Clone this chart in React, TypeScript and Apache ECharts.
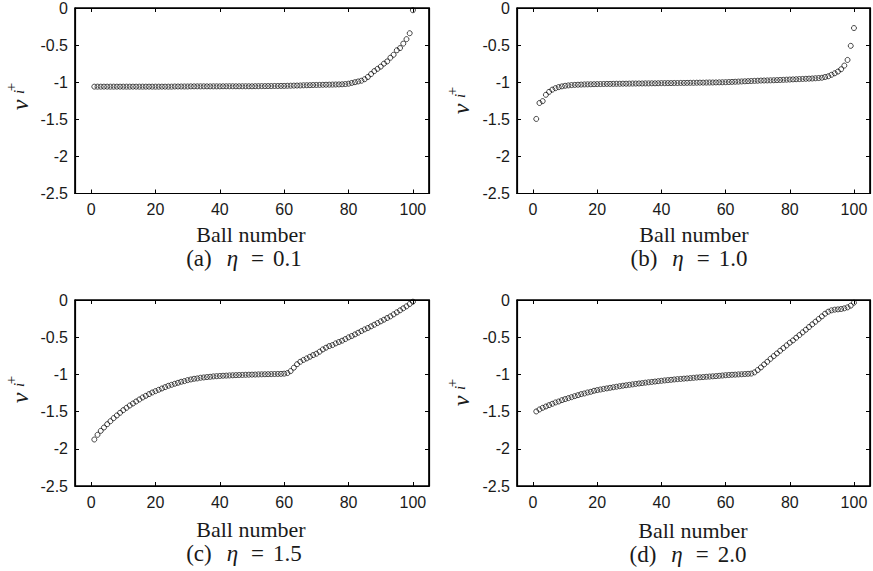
import React, { useEffect, useRef } from "react";
import * as echarts from "echarts";

const ballNumbers = [
  1, 2, 3, 4, 5, 6, 7, 8, 9, 10, 11, 12, 13, 14, 15, 16, 17, 18, 19, 20,
  21, 22, 23, 24, 25, 26, 27, 28, 29, 30, 31, 32, 33, 34, 35, 36, 37, 38, 39, 40,
  41, 42, 43, 44, 45, 46, 47, 48, 49, 50, 51, 52, 53, 54, 55, 56, 57, 58, 59, 60,
  61, 62, 63, 64, 65, 66, 67, 68, 69, 70, 71, 72, 73, 74, 75, 76, 77, 78, 79, 80,
  81, 82, 83, 84, 85, 86, 87, 88, 89, 90, 91, 92, 93, 94, 95, 96, 97, 98, 99, 100,
];

const xTickValues = [0, 20, 40, 60, 80, 100];
const panelLetters = ["(a)", "(b)", "(c)", "(d)"];
const etaLabels = ["0.1", "1.0", "1.5", "2.0"];
const xAxisTitle = "Ball number";

// eta = 0.1
const velEta01 = [
  -1.06, -1.06, -1.06, -1.06, -1.06, -1.06, -1.06, -1.06, -1.06, -1.06,
  -1.06, -1.06, -1.06, -1.06, -1.06, -1.06, -1.06, -1.06, -1.06, -1.06,
  -1.06, -1.06, -1.06, -1.06, -1.06, -1.058, -1.058, -1.058, -1.058, -1.058,
  -1.056, -1.056, -1.056, -1.056, -1.056, -1.056, -1.056, -1.056, -1.056, -1.056,
  -1.055, -1.055, -1.055, -1.055, -1.055, -1.055, -1.055, -1.055, -1.055, -1.055,
  -1.054, -1.054, -1.053, -1.053, -1.052, -1.052, -1.051, -1.051, -1.05, -1.05,
  -1.048, -1.047, -1.046, -1.045, -1.044, -1.042, -1.041, -1.04, -1.038, -1.037,
  -1.036, -1.035, -1.034, -1.033, -1.032, -1.031, -1.03, -1.028, -1.025, -1.02,
  -1.01, -1.0, -0.99, -0.98, -0.96, -0.93, -0.89, -0.85, -0.82, -0.79,
  -0.75, -0.72, -0.67, -0.63, -0.57, -0.54, -0.48, -0.42, -0.34, -0.03,
];

// eta = 1.0
const velEta10 = [
  -1.495, -1.28, -1.255, -1.17, -1.13, -1.1, -1.08, -1.066, -1.056, -1.048,
  -1.043, -1.039, -1.036, -1.034, -1.032, -1.03, -1.029, -1.028, -1.027, -1.026,
  -1.025, -1.024, -1.023, -1.023, -1.022, -1.021, -1.021, -1.02, -1.02, -1.019,
  -1.018, -1.018, -1.017, -1.017, -1.016, -1.016, -1.015, -1.015, -1.014, -1.013,
  -1.013, -1.012, -1.012, -1.011, -1.011, -1.01, -1.01, -1.009, -1.008, -1.008,
  -1.007, -1.006, -1.006, -1.005, -1.004, -1.004, -1.003, -1.002, -1.001, -1.0,
  -0.998, -0.996, -0.994, -0.992, -0.99, -0.988, -0.986, -0.984, -0.982, -0.98,
  -0.978, -0.977, -0.976, -0.975, -0.974, -0.972, -0.97, -0.968, -0.966, -0.964,
  -0.962, -0.96, -0.958, -0.956, -0.954, -0.952, -0.95, -0.947, -0.944, -0.94,
  -0.93, -0.92, -0.9, -0.88, -0.857, -0.825, -0.776, -0.7, -0.51, -0.27,
];

// eta = 1.5
const velEta15 = [
  -1.875, -1.812, -1.759, -1.714, -1.669, -1.629, -1.588, -1.552, -1.516, -1.48,
  -1.449, -1.418, -1.391, -1.364, -1.337, -1.31, -1.288, -1.265, -1.243, -1.225,
  -1.207, -1.189, -1.171, -1.153, -1.14, -1.126, -1.113, -1.099, -1.09, -1.077,
  -1.068, -1.059, -1.054, -1.045, -1.041, -1.036, -1.032, -1.027, -1.024, -1.021,
  -1.018, -1.016, -1.014, -1.012, -1.01, -1.008, -1.007, -1.005, -1.004, -1.003,
  -1.002, -1.0, -0.999, -0.998, -0.997, -0.996, -0.995, -0.994, -0.993, -0.99,
  -0.982, -0.956, -0.91, -0.863, -0.83, -0.805, -0.785, -0.763, -0.74, -0.722,
  -0.695, -0.664, -0.641, -0.619, -0.606, -0.583, -0.565, -0.547, -0.525, -0.502,
  -0.484, -0.462, -0.44, -0.417, -0.395, -0.377, -0.354, -0.332, -0.31, -0.287,
  -0.265, -0.242, -0.22, -0.193, -0.166, -0.139, -0.112, -0.085, -0.054, -0.023,
];

// eta = 2.0
const velEta20 = [
  -1.498, -1.471, -1.449, -1.431, -1.413, -1.395, -1.377, -1.364, -1.346, -1.332,
  -1.319, -1.306, -1.292, -1.279, -1.265, -1.256, -1.243, -1.234, -1.22, -1.211,
  -1.203, -1.195, -1.188, -1.18, -1.173, -1.166, -1.159, -1.152, -1.146, -1.14,
  -1.134, -1.128, -1.122, -1.117, -1.111, -1.106, -1.101, -1.096, -1.091, -1.086,
  -1.081, -1.077, -1.073, -1.068, -1.064, -1.061, -1.057, -1.054, -1.05, -1.046,
  -1.042, -1.039, -1.036, -1.032, -1.029, -1.026, -1.023, -1.019, -1.015, -1.011,
  -1.008, -1.005, -1.003, -1.0, -0.998, -0.995, -0.992, -0.989, -0.973, -0.942,
  -0.906, -0.866, -0.83, -0.79, -0.754, -0.718, -0.682, -0.646, -0.61, -0.574,
  -0.543, -0.507, -0.471, -0.435, -0.4, -0.363, -0.327, -0.292, -0.256, -0.22,
  -0.184, -0.157, -0.139, -0.13, -0.126, -0.121, -0.112, -0.099, -0.076, -0.036,
];

const seriesValues = [velEta01, velEta10, velEta15, velEta20];

const SANS = "'Liberation Sans', Arial, Helvetica, sans-serif";
const SERIF = "'Liberation Serif', 'Times New Roman', serif";
const INK = "#1a1a1a";

const panels = [
  { left: 75, top: 8, width: 354, height: 185.5, vx: 20, vy: 105, titleX: 251, titleY: 234, capX: 244, capY: 258 },
  { left: 517, top: 8, width: 353, height: 185.5, vx: 461, vy: 109, titleX: 694, titleY: 234, capX: 689, capY: 258 },
  { left: 75, top: 300, width: 354, height: 186, vx: 20, vy: 398, titleX: 251, titleY: 529, capX: 244, capY: 553 },
  { left: 517, top: 300, width: 353, height: 186, vx: 461, vy: 401, titleX: 693, titleY: 530, capX: 688, capY: 554 },
];

function buildOption() {
  const grid: any[] = [];
  const xAxis: any[] = [];
  const yAxis: any[] = [];
  const series: any[] = [];
  const graphic: any[] = [];

  const lineStyle = { color: "#000", width: 1.2 };

  panels.forEach((p, k) => {
    grid.push({
      left: p.left,
      top: p.top,
      width: p.width,
      height: p.height,
      containLabel: false,
      outerBoundsMode: "none",
      show: true,
      backgroundColor: "rgba(0,0,0,0)",
      borderColor: "#000",
      borderWidth: 1.2,
    });
    const tick = { show: true, inside: true, length: 4, lineStyle: { color: "#000", width: 1 } };
    xAxis.push({
      gridIndex: k,
      type: "value",
      min: -5,
      max: 105,
      position: "bottom",
      splitLine: { show: false },
      axisLine: { show: true, onZero: false, lineStyle },
      axisTick: { ...tick, customValues: xTickValues },
      axisLabel: { show: true, customValues: xTickValues, margin: 8, fontFamily: SANS, fontSize: 16, color: INK },
    });
    xAxis.push({
      gridIndex: k,
      type: "value",
      min: -5,
      max: 105,
      position: "top",
      splitLine: { show: false },
      axisLine: { show: true, onZero: false, lineStyle },
      axisTick: { ...tick, customValues: xTickValues },
      axisLabel: { show: false, customValues: xTickValues },
    });
    yAxis.push({
      gridIndex: k,
      type: "value",
      min: -2.5,
      max: 0,
      interval: 0.5,
      position: "left",
      splitLine: { show: false },
      axisLine: { show: true, onZero: false, lineStyle },
      axisTick: tick,
      axisLabel: { show: true, margin: 7, fontFamily: SANS, fontSize: 16, lineHeight: 12, color: INK },
    });
    yAxis.push({
      gridIndex: k,
      type: "value",
      min: -2.5,
      max: 0,
      interval: 0.5,
      position: "right",
      splitLine: { show: false },
      axisLine: { show: true, onZero: false, lineStyle },
      axisTick: tick,
      axisLabel: { show: false },
    });

    series.push({
      type: "scatter",
      xAxisIndex: k * 2,
      yAxisIndex: k * 2,
      symbol: "circle",
      symbolSize: 5,
      silent: true,
      itemStyle: { color: "rgba(0,0,0,0)", borderColor: "#000", borderWidth: 0.9 },
      data: ballNumbers.map((b, i) => [b, seriesValues[k][i]]),
    });
    series.push({
      type: "scatter",
      xAxisIndex: k * 2 + 1,
      yAxisIndex: k * 2 + 1,
      silent: true,
      symbolSize: 0,
      data: [],
    });

    graphic.push({
      type: "rect",
      silent: true,
      z: 50,
      shape: { x: p.left, y: p.top, width: p.width, height: p.height },
      style: { fill: "none", stroke: "#000", lineWidth: 1.2 },
    });

    graphic.push({
      type: "text",
      x: p.titleX,
      y: p.titleY,
      style: {
        text: xAxisTitle,
        font: `22px ${SERIF}`,
        lineHeight: 17,
        fill: INK,
        align: "center",
        verticalAlign: "middle",
      },
    });

    graphic.push({
      type: "text",
      x: p.capX,
      y: p.capY,
      style: {
        text: `{n|${panelLetters[k]}}{e|η}{n|=}{m|${etaLabels[k]}}`,
        align: "center",
        verticalAlign: "middle",
        lineHeight: 18,
        rich: {
          n: { font: `23px ${SERIF}`, fill: INK, lineHeight: 18 },
          e: { font: `italic 23px ${SERIF}`, fill: INK, lineHeight: 18, padding: [0, 13, 0, 15] },
          m: { font: `23px ${SERIF}`, fill: INK, lineHeight: 18, padding: [0, 0, 0, 9] },
        },
      },
    });

    const yParts = [
      { t: "v", dx: 0, dy: 0, font: `italic 24px ${SERIF}` },
      { t: "+", dx: -9, dy: -18, font: `15px ${SERIF}` },
      { t: "i", dx: -1, dy: -13, font: `italic 15px ${SERIF}` },
    ];
    yParts.forEach((c) => {
      graphic.push({
        type: "text",
        x: p.vx + c.dx,
        y: p.vy + c.dy,
        rotation: Math.PI / 2,
        style: { text: c.t, font: c.font, fill: INK, align: "center", verticalAlign: "middle" },
      });
    });
  });

  return {
    animation: false,
    backgroundColor: "#fff",
    grid,
    xAxis,
    yAxis,
    series,
    graphic: { elements: graphic },
  };
}

export default function App() {
  const ref = useRef<HTMLDivElement>(null);
  useEffect(() => {
    if (!ref.current) return;
    const chart = echarts.init(ref.current, null, { renderer: "svg" });
    chart.setOption(buildOption() as any);
    return () => chart.dispose();
  }, []);
  return (
    <div
      ref={ref}
      style={{ position: "fixed", left: 0, top: 0, width: 873, height: 571, background: "#fff" }}
    />
  );
}
